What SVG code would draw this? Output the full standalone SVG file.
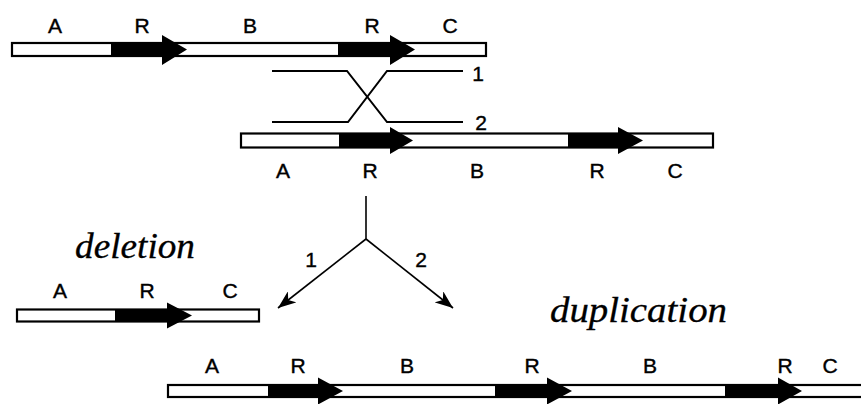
<svg xmlns="http://www.w3.org/2000/svg" width="861" height="404" viewBox="0 0 861 404">
<style>
.bar{fill:#fff;stroke:#000;stroke-width:2.2}
.rep{fill:#000;stroke:none}
.lbl{font-family:"Liberation Sans",Arial,sans-serif;font-size:21px;fill:#000;stroke:#000;stroke-width:0.4;text-anchor:middle}
.ital{font-family:"Liberation Serif","Times New Roman",serif;font-style:italic;font-size:35px;fill:#000;stroke:#000;stroke-width:0.3}
.ln{fill:none;stroke:#000;stroke-width:2}
.br{fill:none;stroke:#000;stroke-width:1.6}
</style>
<defs>
<marker id="ah" markerUnits="userSpaceOnUse" markerWidth="20" markerHeight="14" refX="18" refY="7" orient="auto">
<path d="M0,0 L18,7 L0,14 L5,7 Z" fill="#000"/>
</marker>
</defs>
<rect width="861" height="404" fill="#fff"/>

<g id="chromosome-top">
<rect class="bar" x="12" y="43" width="474" height="13"/>
<path class="rep" d="M111,43 L162,43 L162,35 L187,49.5 L162,65 L162,56 L111,56 Z"/>
<path class="rep" d="M338,43 L390,43 L390,35 L415,49.5 L390,65 L390,56 L338,56 Z"/>
<text class="lbl" x="55" y="33">A</text>
<text class="lbl" x="142" y="33">R</text>
<text class="lbl" x="250" y="33">B</text>
<text class="lbl" x="372" y="33">R</text>
<text class="lbl" x="450" y="33">C</text>
</g>

<g id="chromosome-bottom">
<rect class="bar" x="241" y="133.5" width="472" height="14"/>
<path class="rep" d="M339,133.5 L390,133.5 L390,127 L413,140.5 L390,154 L390,147.5 L339,147.5 Z"/>
<path class="rep" d="M568,133.5 L618,133.5 L618,127 L643,140.5 L618,154 L618,147.5 L568,147.5 Z"/>
<text class="lbl" x="283" y="178">A</text>
<text class="lbl" x="370" y="178">R</text>
<text class="lbl" x="477" y="178">B</text>
<text class="lbl" x="597" y="178">R</text>
<text class="lbl" x="675" y="178">C</text>
</g>

<g id="deletion">
<text class="ital" x="75" y="258" textLength="120" lengthAdjust="spacingAndGlyphs">deletion</text>
<rect class="bar" x="17" y="309.5" width="242" height="12"/>
<path class="rep" d="M115,309.5 L167,309.5 L167,302.5 L192,315.5 L167,328.5 L167,321.5 L115,321.5 Z"/>
<text class="lbl" x="60" y="298">A</text>
<text class="lbl" x="147" y="298">R</text>
<text class="lbl" x="230" y="298">C</text>
</g>

<g id="duplication">
<text class="ital" x="550" y="322" textLength="177" lengthAdjust="spacingAndGlyphs">duplication</text>
<rect class="bar" x="168" y="385" width="710" height="12"/>
<path class="rep" d="M268,385 L318,385 L318,377.5 L343,391 L318,404.5 L318,397 L268,397 Z"/>
<path class="rep" d="M495,385 L547,385 L547,377.5 L572,391 L547,404.5 L547,397 L495,397 Z"/>
<path class="rep" d="M725,385 L778,385 L778,377.5 L802,391 L778,404.5 L778,397 L725,397 Z"/>
<text class="lbl" x="212" y="373">A</text>
<text class="lbl" x="298" y="373">R</text>
<text class="lbl" x="407" y="373">B</text>
<text class="lbl" x="532" y="373">R</text>
<text class="lbl" x="650" y="373">B</text>
<text class="lbl" x="785" y="373">R</text>
<text class="lbl" x="830" y="373">C</text>
</g>

<g id="connectors">
<polyline class="ln" points="272,71 347,71 387,122 463,122"/>
<polyline class="ln" points="272,122 348,122 387,71 463,71"/>
<text class="lbl" x="478" y="81">1</text>
<text class="lbl" x="481" y="130">2</text>
<line class="br" x1="366" y1="196" x2="366" y2="239"/>
<line class="br" x1="366" y1="239" x2="278" y2="308" marker-end="url(#ah)"/>
<line class="br" x1="366" y1="239" x2="453" y2="308" marker-end="url(#ah)"/>
<text class="lbl" x="311" y="267">1</text>
<text class="lbl" x="421" y="267">2</text>
</g>
</svg>
